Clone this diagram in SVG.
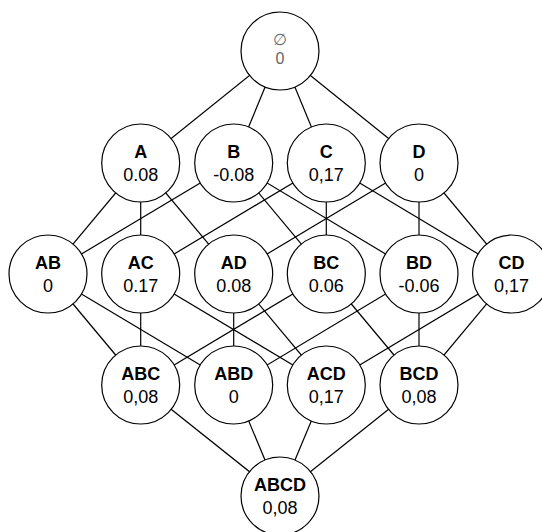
<svg xmlns="http://www.w3.org/2000/svg" width="542" height="532" viewBox="0 0 542 532">
<style>
.n circle{fill:#fff;stroke:#000;stroke-width:1.2}
.l{font-family:"Liberation Sans",Arial,sans-serif;font-size:18px;font-weight:bold;text-anchor:middle;fill:#000}
.v{font-family:"Liberation Sans",Arial,sans-serif;font-size:18px;text-anchor:middle;fill:#000}
.g{font-family:"Liberation Sans","DejaVu Sans",sans-serif;font-size:16px;text-anchor:middle;fill:#666}
#edges line{stroke:#000;stroke-width:1.2}
</style>
<rect width="542" height="532" fill="#fff"/>
<g id="edges">
<line x1="280" y1="51" x2="140.7" y2="163"/>
<line x1="280" y1="51" x2="233.7" y2="163"/>
<line x1="280" y1="51" x2="326.3" y2="163"/>
<line x1="280" y1="51" x2="419" y2="163"/>
<line x1="140.7" y1="163" x2="48" y2="274"/>
<line x1="140.7" y1="163" x2="140.7" y2="274"/>
<line x1="140.7" y1="163" x2="233.7" y2="274"/>
<line x1="233.7" y1="163" x2="48" y2="274"/>
<line x1="233.7" y1="163" x2="326.3" y2="274"/>
<line x1="233.7" y1="163" x2="419" y2="274"/>
<line x1="326.3" y1="163" x2="140.7" y2="274"/>
<line x1="326.3" y1="163" x2="326.3" y2="274"/>
<line x1="326.3" y1="163" x2="511.6" y2="274"/>
<line x1="419" y1="163" x2="233.7" y2="274"/>
<line x1="419" y1="163" x2="419" y2="274"/>
<line x1="419" y1="163" x2="511.6" y2="274"/>
<line x1="48" y1="274" x2="140.7" y2="385"/>
<line x1="48" y1="274" x2="233.7" y2="385"/>
<line x1="140.7" y1="274" x2="140.7" y2="385"/>
<line x1="140.7" y1="274" x2="326.3" y2="385"/>
<line x1="233.7" y1="274" x2="233.7" y2="385"/>
<line x1="233.7" y1="274" x2="326.3" y2="385"/>
<line x1="326.3" y1="274" x2="140.7" y2="385"/>
<line x1="326.3" y1="274" x2="419" y2="385"/>
<line x1="419" y1="274" x2="233.7" y2="385"/>
<line x1="419" y1="274" x2="419" y2="385"/>
<line x1="511.6" y1="274" x2="326.3" y2="385"/>
<line x1="511.6" y1="274" x2="419" y2="385"/>
<line x1="140.7" y1="385" x2="280" y2="496"/>
<line x1="233.7" y1="385" x2="280" y2="496"/>
<line x1="326.3" y1="385" x2="280" y2="496"/>
<line x1="419" y1="385" x2="280" y2="496"/>
</g>
<g id="n-empty" class="n"><circle cx="280" cy="51" r="39"/><text class="g" x="280" y="45">∅</text><text class="g" x="280" y="64">0</text></g>
<g id="n-A" class="n"><circle cx="140.7" cy="163" r="39"/><text class="l" x="140.7" y="158">A</text><text class="v" x="140.7" y="181">0.08</text></g>
<g id="n-B" class="n"><circle cx="233.7" cy="163" r="39"/><text class="l" x="233.7" y="158">B</text><text class="v" x="233.7" y="181">-0.08</text></g>
<g id="n-C" class="n"><circle cx="326.3" cy="163" r="39"/><text class="l" x="326.3" y="158">C</text><text class="v" x="326.3" y="181">0,17</text></g>
<g id="n-D" class="n"><circle cx="419" cy="163" r="39"/><text class="l" x="419" y="158">D</text><text class="v" x="419" y="181">0</text></g>
<g id="n-AB" class="n"><circle cx="48" cy="274" r="39"/><text class="l" x="48" y="269">AB</text><text class="v" x="48" y="292">0</text></g>
<g id="n-AC" class="n"><circle cx="140.7" cy="274" r="39"/><text class="l" x="140.7" y="269">AC</text><text class="v" x="140.7" y="292">0.17</text></g>
<g id="n-AD" class="n"><circle cx="233.7" cy="274" r="39"/><text class="l" x="233.7" y="269">AD</text><text class="v" x="233.7" y="292">0.08</text></g>
<g id="n-BC" class="n"><circle cx="326.3" cy="274" r="39"/><text class="l" x="326.3" y="269">BC</text><text class="v" x="326.3" y="292">0.06</text></g>
<g id="n-BD" class="n"><circle cx="419" cy="274" r="39"/><text class="l" x="419" y="269">BD</text><text class="v" x="419" y="292">-0.06</text></g>
<g id="n-CD" class="n"><circle cx="511.6" cy="274" r="39"/><text class="l" x="511.6" y="269">CD</text><text class="v" x="511.6" y="292">0,17</text></g>
<g id="n-ABC" class="n"><circle cx="140.7" cy="385" r="39"/><text class="l" x="140.7" y="380">ABC</text><text class="v" x="140.7" y="403">0,08</text></g>
<g id="n-ABD" class="n"><circle cx="233.7" cy="385" r="39"/><text class="l" x="233.7" y="380">ABD</text><text class="v" x="233.7" y="403">0</text></g>
<g id="n-ACD" class="n"><circle cx="326.3" cy="385" r="39"/><text class="l" x="326.3" y="380">ACD</text><text class="v" x="326.3" y="403">0,17</text></g>
<g id="n-BCD" class="n"><circle cx="419" cy="385" r="39"/><text class="l" x="419" y="380">BCD</text><text class="v" x="419" y="403">0,08</text></g>
<g id="n-ABCD" class="n"><circle cx="280" cy="496" r="39"/><text class="l" x="280" y="491">ABCD</text><text class="v" x="280" y="514">0,08</text></g>
</svg>
